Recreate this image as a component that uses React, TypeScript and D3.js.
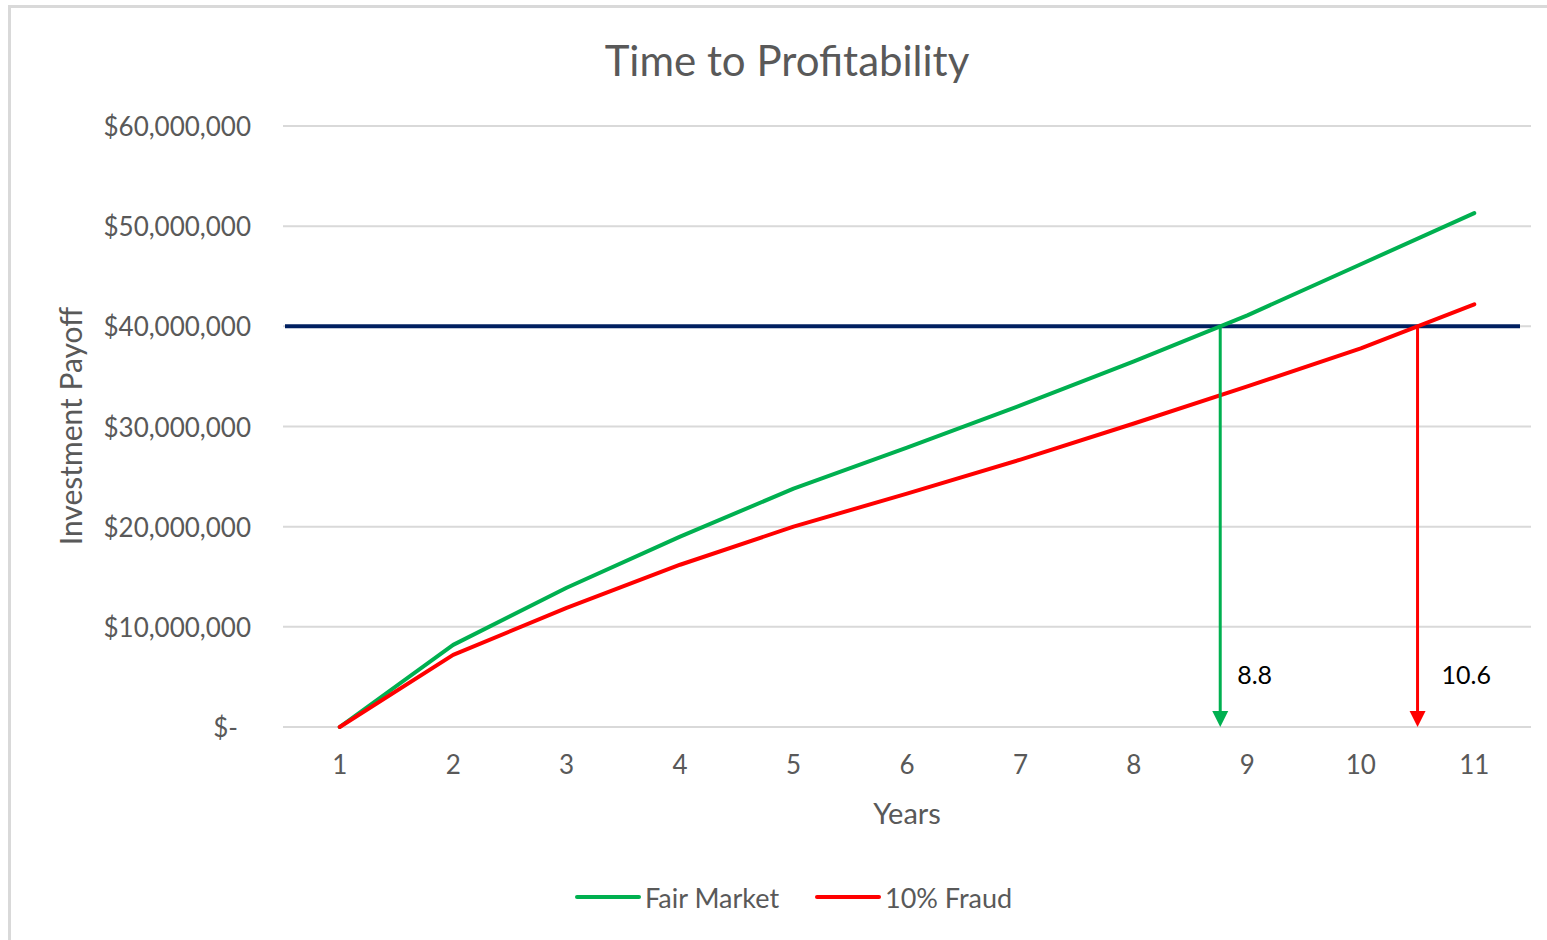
import React from "react";
import * as d3 from "d3";

const years = ["1", "2", "3", "4", "5", "6", "7", "8", "9", "10", "11"];
const fairMarket = [0, 8.2e6, 13.9e6, 19.0e6, 23.8e6, 27.9e6, 32.1e6, 36.5e6, 41.1e6, 46.2e6, 51.3e6];
const fraud10 = [0, 7.2e6, 11.9e6, 16.2e6, 20.0e6, 23.3e6, 26.7e6, 30.3e6, 34.0e6, 37.8e6, 42.2e6];
const yTicks = [0, 10e6, 20e6, 30e6, 40e6, 50e6, 60e6];
const target = 40e6;
const seriesNames = ["Fair Market", "10% Fraud"];
const seriesColors = ["#00B050", "#FF0000"];
const crossLabels = ["8.8", "10.6"];

const FONT = "Lato, 'Open Sans', sans-serif";

function fmtMoney(v: number) {
  if (v === 0) return "$-";
  return "$" + d3.format(",")(v);
}

function crossing(vals: number[], t: number) {
  for (let i = 0; i < vals.length - 1; i++) {
    if (vals[i] <= t && vals[i + 1] >= t) {
      return i + (t - vals[i]) / (vals[i + 1] - vals[i]);
    }
  }
  return vals.length - 1;
}

export default function App() {
  const W = 1547, H = 940;
  const x = d3.scalePoint<string>().domain(years).range([283, 1531]).padding(0.5);
  const y = d3.scaleLinear().domain([0, 60e6]).range([727, 126]);
  const step = x.step();
  const x0 = x(years[0]) as number;
  const xIdx = (i: number) => x0 + i * step;

  const line = d3.line<number>().x((_, i) => x(years[i]) as number).y((d) => y(d));
  const series = [fairMarket, fraud10];
  const labelOffsets = [17, 24];

  return (
    <svg width={W} height={H} style={{ position: "absolute", left: 0, top: 0, display: "block" }}>
      <rect x={0} y={0} width={W} height={H} fill="#fff" />
      <rect x={9.5} y={6.5} width={W + 20} height={H + 20} fill="#fff" stroke="#d9d9d9" strokeWidth={3} />
      <text x={787} y={60} textAnchor="middle" dominantBaseline="central" fontFamily={FONT} fontSize={42} fill="#595959">
        Time to Profitability
      </text>
      {yTicks.map((t) => (
        <g key={t}>
          <line x1={283} x2={1531} y1={y(t)} y2={y(t)} stroke="#d9d9d9" strokeWidth={2} />
          <text x={t === 0 ? 238 : 251} y={y(t)} textAnchor="end" dominantBaseline="central" fontFamily={FONT} fontSize={26} fill="#595959">
            {fmtMoney(t)}
          </text>
        </g>
      ))}
      {years.map((yr) => (
        <text key={yr} x={x(yr) as number} y={764} textAnchor="middle" dominantBaseline="central" fontFamily={FONT} fontSize={26} fill="#595959">
          {yr}
        </text>
      ))}
      <text x={907} y={812} textAnchor="middle" dominantBaseline="central" fontFamily={FONT} fontSize={29} fill="#595959">
        Years
      </text>
      <text transform={`translate(70,426) rotate(-90)`} textAnchor="middle" dominantBaseline="central" fontFamily={FONT} fontSize={30} fill="#595959">
        Investment Payoff
      </text>
      <line x1={285} x2={1520} y1={y(target)} y2={y(target)} stroke="#002060" strokeWidth={4} />
      {series.map((s, k) => (
        <path key={k} d={line(s) || ""} fill="none" stroke={seriesColors[k]} strokeWidth={4} strokeLinejoin="round" strokeLinecap="round" />
      ))}
      {series.map((s, k) => {
        const cx = xIdx(crossing(s, target));
        const yTop = y(target);
        const yBot = y(0);
        return (
          <g key={"a" + k}>
            <line x1={cx} x2={cx} y1={yTop} y2={yBot - 14} stroke={seriesColors[k]} strokeWidth={3} />
            <path d={`M${cx - 8},${yBot - 16} L${cx + 8},${yBot - 16} L${cx},${yBot} Z`} fill={seriesColors[k]} />
            <text x={cx + labelOffsets[k]} y={674} dominantBaseline="central" fontFamily={FONT} fontSize={25} fill="#000">
              {crossLabels[k]}
            </text>
          </g>
        );
      })}
      {seriesNames.map((n, k) => {
        const lx = k === 0 ? 577 : 817;
        return (
          <g key={n}>
            <line x1={lx} x2={lx + 62} y1={897} y2={897} stroke={seriesColors[k]} strokeWidth={4} strokeLinecap="round" />
            <text x={lx + 68} y={897} dominantBaseline="central" fontFamily={FONT} fontSize={27} fill="#595959">
              {n}
            </text>
          </g>
        );
      })}
    </svg>
  );
}
